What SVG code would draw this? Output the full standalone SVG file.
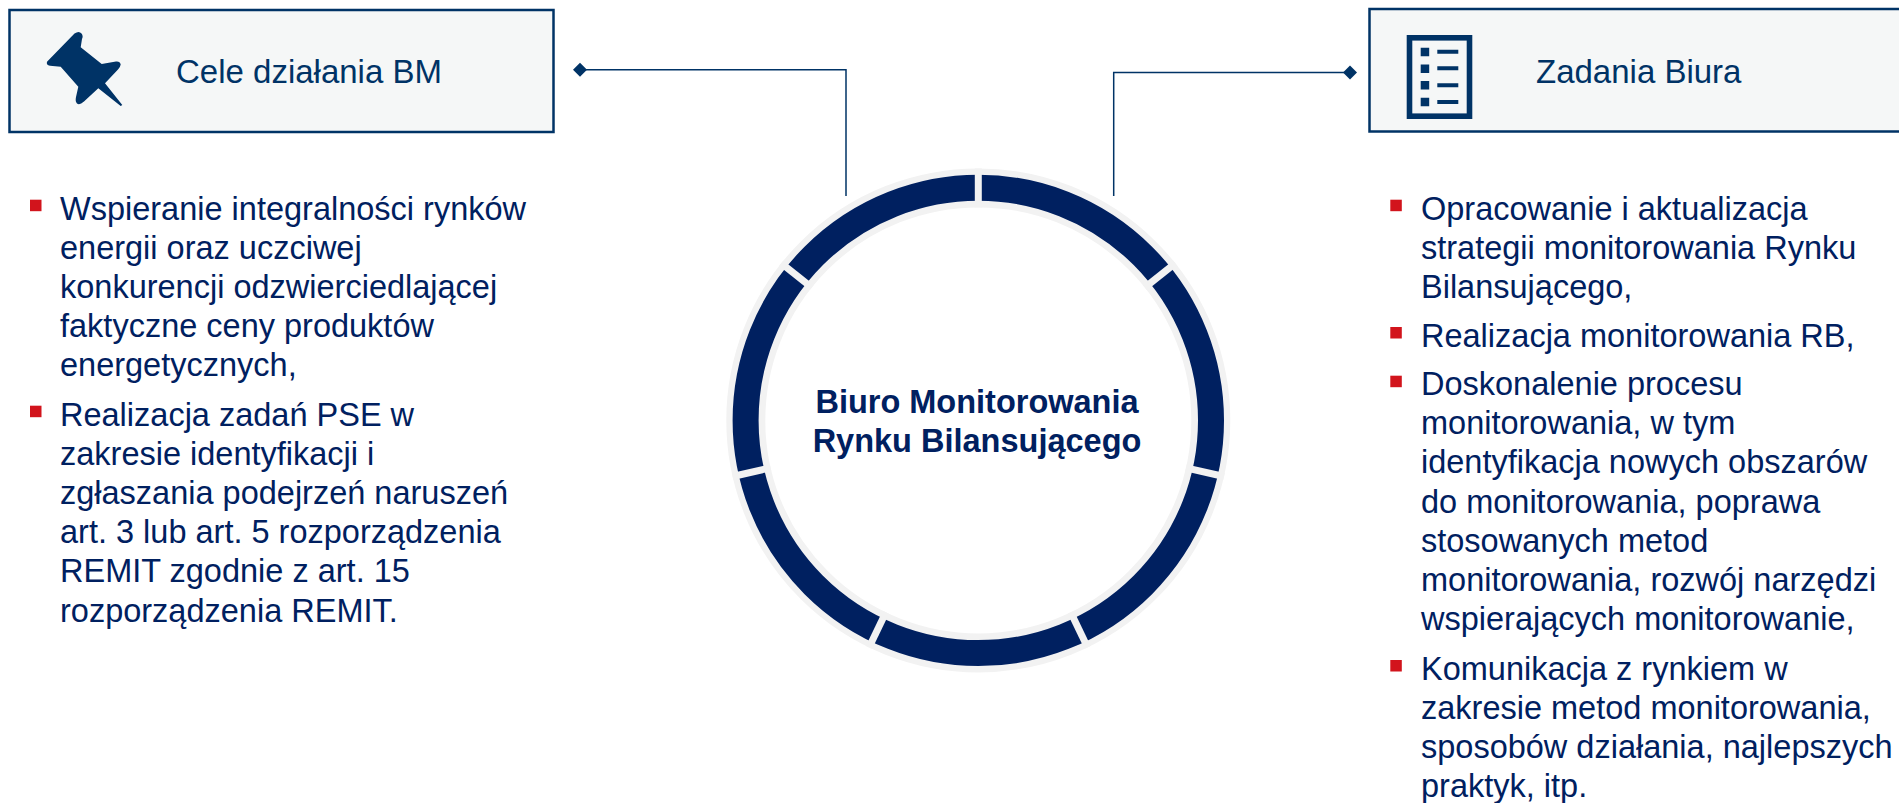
<svg xmlns="http://www.w3.org/2000/svg" width="1899" height="803" viewBox="0 0 1899 803">
<style>
.box{fill:#f5f7f7;stroke:#003366;stroke-width:2.5}
.hd{font-family:"Liberation Sans",Arial,sans-serif;font-size:33px;fill:#003366}
.bd{font-family:"Liberation Sans",Arial,sans-serif;font-size:32.5px;fill:#002060}
.ctr{font-family:"Liberation Sans",Arial,sans-serif;font-size:32.5px;font-weight:700;fill:#002060;text-anchor:middle}
.bul{fill:#d2141c}
.conn{fill:none;stroke:#003366;stroke-width:1.5}
.dia{fill:#003366}
.gap{stroke:#f2f2f2;stroke-width:7}
</style>
<g id="connectors">
<path class="conn" d="M580 69.700H846V196"/>
<path class="dia" d="M573 69.700L580 62.700L587 69.700L580 76.700Z"/>
<path class="conn" d="M1113.700 196V72.500H1350"/>
<path class="dia" d="M1343 72.500L1350 65.500L1357 72.500L1350 79.500Z"/>
</g>
<g id="node-cele">
<rect class="box" x="9.500" y="10" width="544" height="122"/>
<path class="dia" d="M74.500 33.500Q79 30.500 81.500 33.500Q83.500 36 82 39L80.700 47.300L101.700 64L116 61.500Q120 61 120.700 64.500Q120.500 66.500 118 69.500L105 83.300L122.300 105L120.700 106L98.300 88.300L84 101.500Q79.500 105.500 77 103.500Q75 101.500 76 97L78.300 86.700L60.700 66.700L50 65.700Q46 65 47 61.700Z"/>
<text class="hd" x="176" y="83">Cele działania BM</text>
</g>
<g id="node-zadania">
<rect class="box" x="1369.500" y="9" width="540" height="122.500"/>
<rect x="1409.500" y="37.800" width="60" height="78.400" fill="none" stroke="#003366" stroke-width="5.600"/>
<path class="dia" d="M1420.700 47.700h8.500v8.500h-8.500zM1420.700 64.400h8.500v8.500h-8.500zM1420.700 81h8.500v8.500h-8.500zM1420.700 97.700h8.500v8.500h-8.500zM1437.300 49.700h21v4h-21zM1437.300 66.300h21v4h-21zM1437.300 83.300h21v4h-21zM1437.300 100h21v4h-21z"/>
<text class="hd" x="1536" y="83">Zadania Biura</text>
</g>
<g id="node-center">
<circle cx="978.300" cy="420.400" r="232.500" fill="#fff" stroke="#f2f2f2" stroke-width="39"/>
<circle cx="978.300" cy="420.400" r="232.700" fill="none" stroke="#002060" stroke-width="26"/>
<g class="gap">
<line x1="978.300" y1="207.400" x2="978.300" y2="168.400"/>
<line x1="978.300" y1="207.400" x2="978.300" y2="168.400" transform="rotate(51.430 978.300 420.400)"/>
<line x1="978.300" y1="207.400" x2="978.300" y2="168.400" transform="rotate(102.860 978.300 420.400)"/>
<line x1="978.300" y1="207.400" x2="978.300" y2="168.400" transform="rotate(154.290 978.300 420.400)"/>
<line x1="978.300" y1="207.400" x2="978.300" y2="168.400" transform="rotate(205.710 978.300 420.400)"/>
<line x1="978.300" y1="207.400" x2="978.300" y2="168.400" transform="rotate(257.140 978.300 420.400)"/>
<line x1="978.300" y1="207.400" x2="978.300" y2="168.400" transform="rotate(308.570 978.300 420.400)"/>
</g>
<text class="ctr" x="977" y="413.300">Biuro Monitorowania</text>
<text class="ctr" x="977" y="452.300">Rynku Bilansującego</text>
</g>
<g id="list-left">
<rect class="bul" x="30" y="199.700" width="11.500" height="11.500"/>
<rect class="bul" x="30" y="405.700" width="11.500" height="11.500"/>
<text class="bd" x="60" y="220">Wspieranie integralności rynków</text>
<text class="bd" x="60" y="259">energii oraz uczciwej</text>
<text class="bd" x="60" y="298">konkurencji odzwierciedlającej</text>
<text class="bd" x="60" y="337">faktyczne ceny produktów</text>
<text class="bd" x="60" y="376">energetycznych,</text>
<text class="bd" x="60" y="426">Realizacja zadań PSE w</text>
<text class="bd" x="60" y="465">zakresie identyfikacji i</text>
<text class="bd" x="60" y="504">zgłaszania podejrzeń naruszeń</text>
<text class="bd" x="60" y="543">art. 3 lub art. 5 rozporządzenia</text>
<text class="bd" x="60" y="582">REMIT zgodnie z art. 15</text>
<text class="bd" x="60" y="621.500">rozporządzenia REMIT.</text>
</g>
<g id="list-right">
<rect class="bul" x="1390.300" y="199.700" width="11.500" height="11.500"/>
<rect class="bul" x="1390.300" y="327" width="11.500" height="11.500"/>
<rect class="bul" x="1390.300" y="375.700" width="11.500" height="11.500"/>
<rect class="bul" x="1390.300" y="660" width="11.500" height="11.500"/>
<text class="bd" x="1421" y="219.500">Opracowanie i aktualizacja</text>
<text class="bd" x="1421" y="258.500">strategii monitorowania Rynku</text>
<text class="bd" x="1421" y="297.500">Bilansującego,</text>
<text class="bd" x="1421" y="346.500">Realizacja monitorowania RB,</text>
<text class="bd" x="1421" y="395">Doskonalenie procesu</text>
<text class="bd" x="1421" y="434">monitorowania, w tym</text>
<text class="bd" x="1421" y="473">identyfikacja nowych obszarów</text>
<text class="bd" x="1421" y="513">do monitorowania, poprawa</text>
<text class="bd" x="1421" y="552">stosowanych metod</text>
<text class="bd" x="1421" y="591">monitorowania, rozwój narzędzi</text>
<text class="bd" x="1421" y="630">wspierających monitorowanie,</text>
<text class="bd" x="1421" y="679.500">Komunikacja z rynkiem w</text>
<text class="bd" x="1421" y="718.500">zakresie metod monitorowania,</text>
<text class="bd" x="1421" y="757.500">sposobów działania, najlepszych</text>
<text class="bd" x="1421" y="796.500">praktyk, itp.</text>
</g>
</svg>
